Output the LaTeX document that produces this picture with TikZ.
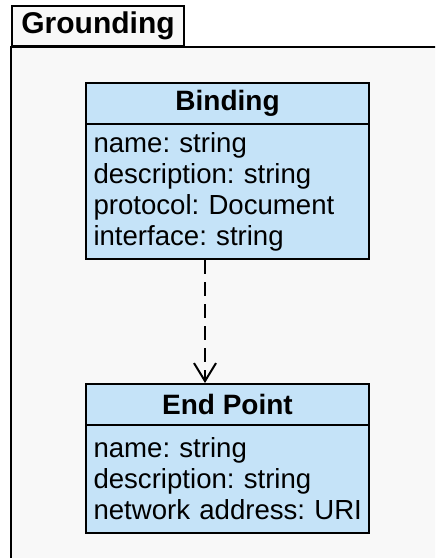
\documentclass[tikz,border=0pt]{standalone}
\usepackage{fontspec}
\setmainfont{Liberation Sans}
\usetikzlibrary{arrows.meta}
\definecolor{classblue}{RGB}{197,227,248}
\definecolor{pkggrey}{RGB}{248,248,248}
\frenchspacing

\begin{document}
\begin{tikzpicture}
            [x=0.5pt, y=-0.5pt, line width=1pt, >={Straight Barb[length=9pt,width=11pt,line width=1pt]},
             pkg/.style={draw=black, fill=pkggrey},
             classhead/.style={draw=black, fill=classblue, anchor=north west, inner sep=0pt,
                               minimum width=141.5pt, minimum height=20.5pt,
                               font=\bfseries\fontsize{14}{15.5}\selectfont},
             classattr/.style={draw=black, fill=classblue, anchor=north west, inner xsep=3.75pt,
                               inner ysep=4pt, text width=134pt, align=left,
                               font=\fontsize{13.8}{15.5}\selectfont}]
            \clip (0, 0) rectangle (435, 558);
            \fill[white] (0, 0) rectangle (435, 558);

            % package
            \draw[pkg] (11, 47) rectangle (450, 580);
            \node[pkg, anchor=south west, inner sep=0pt, minimum width=86pt, minimum height=20pt,
                  font=\bfseries\fontsize{15}{16}\selectfont] (grounding) at (11, 47) {Grounding};

            % classes
            \node[classhead] (binding) at (85, 82) {Binding};
            \node[classattr, minimum height=67.5pt] (bindingattr) at (85, 123)
                {name: string\\description: string\\protocol: Document\\interface: string};
            \node[classhead] (endpoint) at (85, 383) {End Point};
            \node[classattr, minimum height=54pt] (endpointattr) at (85, 424)
                {name: string\\description: string\\\mbox{network address: URI}};

            \draw[->, dashed, dash pattern=on 7pt off 4pt] (bindingattr.south -| 205, 0) -- (endpoint.north -| 205, 0);
        \end{tikzpicture}
\end{document}
